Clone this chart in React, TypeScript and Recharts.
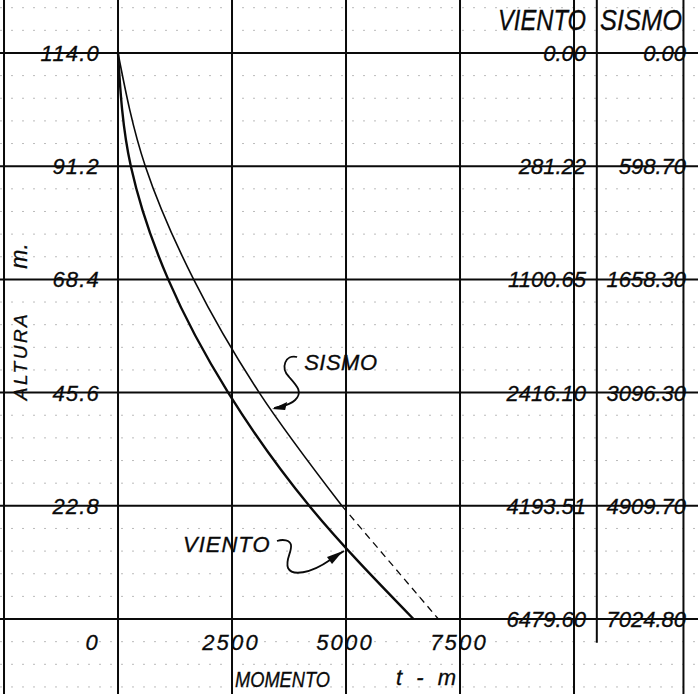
import React from 'react';
import { LineChart, Line, XAxis, YAxis, ReferenceLine, ReferenceDot, CartesianGrid, Label } from 'recharts';

// ---- data ----
const heights = [114.0, 91.2, 68.4, 45.6, 22.8, 0];
const heightTickLabels = ['114.0', '91.2', '68.4', '45.6', '22.8'];
const vientoMoments = [0, 281.22, 1100.65, 2416.1, 4193.51, 6479.6];
const sismoMoments = [0, 598.7, 1658.3, 3096.3, 4909.7, 7024.8];
const momentTicks = [0, 2500, 5000, 7500];
const momentTickLabels = ['0', '2500', '5000', '7500'];
const tableHeaders = ['VIENTO', 'SISMO'];
const seriesNames = ['VIENTO', 'SISMO'];
const axisTitles = { y: 'ALTURA', yUnit: 'm.', x: 'MOMENTO', xUnit: 't - m' };

// grid / frame values (data units)
const momentGrid = [-2500, 0, 2500, 5000, 7500, 10000, 12400];
const tableInnerBorder = 10500;
const xDomain = [-2588, 12719];
const yDomain = [-15.1, 124.67];
const dashFrom = 22.8;

const rows = heights.map((h, i) => ({
  h,
  viento: vientoMoments[i],
  sismoSolid: h >= dashFrom ? sismoMoments[i] : null,
  sismoDash: h <= dashFrom ? sismoMoments[i] : null,
}));

const minorH: number[] = [];
for (let k = -3; k <= 27; k++) {
  if (k % 5 !== 0) minorH.push(k * 4.56);
}

const FONT = "'Liberation Sans', Arial, sans-serif";
const INK = '#0a0a0a';

const txt = (extra: any = {}) => ({
  fontFamily: FONT,
  fontStyle: 'italic' as const,
  fill: INK,
  stroke: INK,
  strokeWidth: 0.3,
  fontSize: 22,
  ...extra,
});

const LeftTick = (props: any) => {
  const { x, y, payload } = props;
  const i = heights.indexOf(payload.value);
  if (i < 0 || !heightTickLabels[i]) return null;
  return (
    <text x={x + 100} y={y + 8} textAnchor="end" {...txt({ letterSpacing: 1.2 })}>
      {heightTickLabels[i]}
    </text>
  );
};

const RightTick = (props: any) => {
  const { x, y, payload } = props;
  const i = heights.indexOf(payload.value);
  if (i < 0) return null;
  return (
    <g>
      {i === 0 && (
        <g>
          <text x={x - 200} y={y - 23} textLength={88} lengthAdjust="spacingAndGlyphs" {...txt({ fontSize: 30 })}>
            {tableHeaders[0]}
          </text>
          <text x={x - 98} y={y - 23} textLength={82} lengthAdjust="spacingAndGlyphs" {...txt({ fontSize: 30 })}>
            {tableHeaders[1]}
          </text>
        </g>
      )}
      <text x={x - 112} y={y + 8} textAnchor="end" {...txt()}>
        {vientoMoments[i].toFixed(2)}
      </text>
      <text x={x - 12} y={y + 8} textAnchor="end" {...txt()}>
        {sismoMoments[i].toFixed(2)}
      </text>
    </g>
  );
};

const BottomTick = (props: any) => {
  const { x, y, payload } = props;
  const i = momentTicks.indexOf(payload.value);
  if (i < 0) return null;
  const isZero = payload.value === 0;
  return (
    <text
      x={isZero ? x - 18 : x - 1}
      y={y - 44}
      textAnchor={isZero ? 'end' : 'middle'}
      {...txt({ letterSpacing: 2.2 })}
    >
      {momentTickLabels[i]}
    </text>
  );
};

const YTitle = (props: any) => {
  const vb = props.viewBox || { x: 0, y: 0, height: 694 };
  const cx = 27;
  const mid = vb.y + vb.height / 2;
  const cy1 = mid + 9;
  const cy2 = mid - 91;
  return (
    <g>
      <text x={cx} y={cy1} textAnchor="middle" transform={`rotate(-90 ${cx} ${cy1})`} {...txt({ fontSize: 19, letterSpacing: 2.5 })}>
        {axisTitles.y}
      </text>
      <text x={cx} y={cy2} textAnchor="middle" transform={`rotate(-90 ${cx} ${cy2})`} {...txt({ fontSize: 23 })}>
        {axisTitles.yUnit}
      </text>
    </g>
  );
};

const XTitle = (props: any) => {
  const vb = props.viewBox || { x: 0, y: 694, width: 698 };
  const base = vb.y;
  return (
    <g>
      <text x={235} y={base - 7} textLength={95} lengthAdjust="spacingAndGlyphs" {...txt({ fontSize: 22 })}>
        {axisTitles.x}
      </text>
      <text x={396} y={base - 9} {...txt({ fontSize: 22, letterSpacing: 4 })}>
        {axisTitles.xUnit}
      </text>
    </g>
  );
};

const SismoNote = (p: any) => {
  const { cx, cy } = p;
  return (
    <g transform={`translate(${cx},${cy})`}>
      <path d="M 25 -51 C 13 -54, 8 -40, 17 -31 C 25 -22, 31 -16, 23 -8 C 17 -2, 9 -2, 2 0" fill="none" stroke={INK} strokeWidth={1.8} />
      <polygon points="0,1 15,-6 13,2" fill={INK} />
      <text x={32} y={-38} {...txt({ fontSize: 22, letterSpacing: 0.5 })}>
        {seriesNames[1]}
      </text>
    </g>
  );
};

const VientoNote = (p: any) => {
  const { cx, cy } = p;
  return (
    <g transform={`translate(${cx},${cy})`}>
      <path d="M -67 -9 C -61 -11, -54 -10, -53 -5 C -52 2, -59 10, -56 18 C -52 26, -34 24, -14 10 L 0 1" fill="none" stroke={INK} strokeWidth={1.8} />
      <polygon points="-1,1 -17,7 -12,14" fill={INK} />
      <text x={-161} y={2} {...txt({ fontSize: 22, letterSpacing: 1 })}>
        {seriesNames[0]}
      </text>
    </g>
  );
};

export default function App() {
  return (
    <div style={{ position: 'absolute', left: 0, top: 0, width: 698, height: 694, background: '#fff', overflow: 'hidden' }}>
      <LineChart
        width={698}
        height={694}
        data={rows}
        layout="vertical"
        margin={{ top: 0, right: -1, bottom: -1, left: -1 }}
        style={{ overflow: 'visible' }}
      >
        <CartesianGrid vertical={false} horizontalValues={minorH} stroke="#bbb" strokeDasharray="2 9" />
        <XAxis
          type="number"
          domain={xDomain}
          allowDataOverflow
          ticks={momentTicks}
          height={1}
          axisLine={false}
          tickLine={false}
          tickSize={0}
          tickMargin={0}
          tick={<BottomTick />}
          interval={0}
        >
          <Label content={<XTitle />} />
        </XAxis>
        <YAxis
          type="number"
          dataKey="h"
          domain={yDomain}
          reversed
          allowDataOverflow
          ticks={heights.slice(0, 5)}
          width={1}
          axisLine={false}
          tickLine={false}
          tickSize={0}
          tickMargin={0}
          tick={<LeftTick />}
          interval={0}
        >
          <Label content={<YTitle />} />
        </YAxis>
        <YAxis
          yAxisId="right"
          orientation="right"
          type="number"
          dataKey="h"
          domain={yDomain}
          reversed
          allowDataOverflow
          ticks={heights}
          width={1}
          axisLine={false}
          tickLine={false}
          tickSize={0}
          tickMargin={0}
          tick={<RightTick />}
          interval={0}
        />
        {heights.map((h) => (
          <ReferenceLine key={'h' + h} y={h} stroke={INK} strokeWidth={2} />
        ))}
        {momentGrid.map((m) => (
          <ReferenceLine key={'m' + m} x={m} stroke={INK} strokeWidth={2} />
        ))}
        <ReferenceLine
          segment={[
            { x: tableInnerBorder, y: yDomain[1] },
            { x: tableInnerBorder, y: -4.8 },
          ]}
          stroke={INK}
          strokeWidth={2}
        />
        <Line dataKey="viento" type="monotone" stroke={INK} strokeWidth={2.4} dot={false} activeDot={false} isAnimationActive={false} />
        <Line dataKey="sismoSolid" type="monotone" stroke={INK} strokeWidth={1.6} dot={false} activeDot={false} isAnimationActive={false} />
        <Line dataKey="sismoDash" type="monotone" stroke={INK} strokeWidth={1.3} strokeDasharray="7 5" dot={false} activeDot={false} isAnimationActive={false} />
        <ReferenceDot x={3380} y={42.5} r={0} shape={(p: any) => <SismoNote {...p} />} />
        <ReferenceDot x={4956} y={13.9} r={0} shape={(p: any) => <VientoNote {...p} />} />
      </LineChart>
    </div>
  );
}
